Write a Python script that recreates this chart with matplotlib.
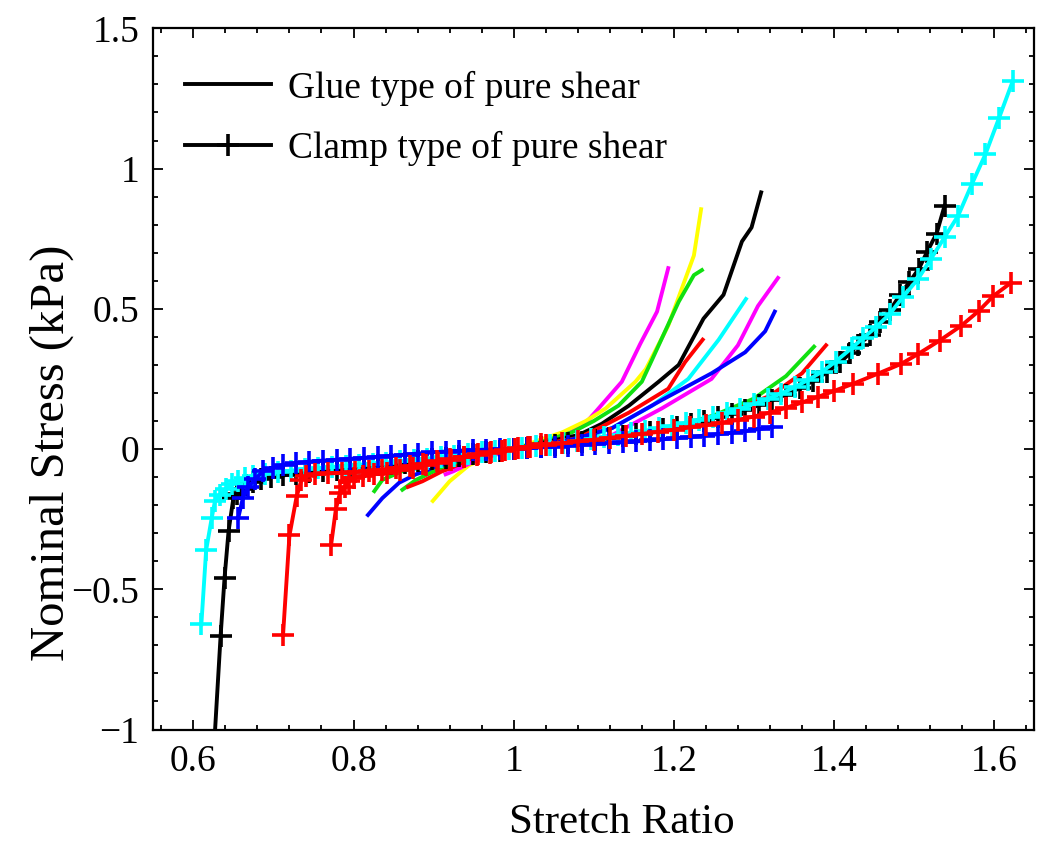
import matplotlib
matplotlib.use('Agg')
import matplotlib.pyplot as plt
from matplotlib.ticker import MultipleLocator, FuncFormatter
from matplotlib.lines import Line2D

plt.rcParams['font.family'] = ['Liberation Serif', 'DejaVu Serif']

# ---- glue type (solid lines), tension side ----
glue_t_magenta1_x = [1.0, 1.03, 1.06, 1.086, 1.106, 1.135, 1.158, 1.179, 1.193]
glue_t_magenta1_y = [0.0, 0.02, 0.05, 0.08, 0.145, 0.24, 0.375, 0.49, 0.645]
glue_t_yellow_x = [1.0, 1.03, 1.061, 1.09, 1.115, 1.152, 1.165, 1.193, 1.225, 1.234]
glue_t_yellow_y = [0.0, 0.03, 0.06, 0.10, 0.145, 0.24, 0.285, 0.44, 0.69, 0.855]
glue_t_green1_x = [1.0, 1.04, 1.073, 1.10, 1.131, 1.16, 1.173, 1.206, 1.225, 1.235]
glue_t_green1_y = [0.0, 0.03, 0.06, 0.10, 0.155, 0.24, 0.32, 0.525, 0.62, 0.638]
glue_t_black_x = [1.0, 1.04, 1.081, 1.11, 1.144, 1.181, 1.206, 1.237, 1.262, 1.285, 1.297, 1.309]
glue_t_black_y = [0.0, 0.025, 0.05, 0.09, 0.155, 0.24, 0.30, 0.465, 0.55, 0.74, 0.79, 0.915]
glue_t_red1_x = [1.0, 1.04, 1.081, 1.11, 1.144, 1.193, 1.214, 1.236]
glue_t_red1_y = [0.0, 0.02, 0.04, 0.08, 0.13, 0.215, 0.31, 0.39]
glue_t_cyan_x = [1.0, 1.05, 1.09, 1.123, 1.173, 1.218, 1.256, 1.29]
glue_t_cyan_y = [0.0, 0.015, 0.04, 0.075, 0.155, 0.25, 0.39, 0.535]
glue_t_magenta2_x = [1.0, 1.05, 1.09, 1.123, 1.185, 1.247, 1.28, 1.305, 1.33]
glue_t_magenta2_y = [0.0, 0.015, 0.03, 0.05, 0.145, 0.25, 0.37, 0.51, 0.61]
glue_t_blue_x = [1.0, 1.05, 1.081, 1.123, 1.185, 1.247, 1.289, 1.314, 1.326]
glue_t_blue_y = [0.0, 0.02, 0.04, 0.075, 0.175, 0.27, 0.345, 0.42, 0.49]
glue_t_green2_x = [1.0, 1.1, 1.2, 1.25, 1.3, 1.34, 1.375]
glue_t_green2_y = [0.0, 0.03, 0.08, 0.12, 0.18, 0.26, 0.365]
glue_t_red2_x = [1.0, 1.1, 1.2, 1.26, 1.32, 1.36, 1.39]
glue_t_red2_y = [0.0, 0.03, 0.075, 0.12, 0.19, 0.27, 0.37]

# ---- glue type, compression side ----
glue_c_blue_x = [0.818, 0.824, 0.836, 0.857, 0.878, 0.91, 0.95, 1.0]
glue_c_blue_y = [-0.235, -0.215, -0.175, -0.12, -0.09, -0.06, -0.03, 0.0]
glue_c_green1_x = [0.826, 0.836, 0.86, 0.9, 0.95, 1.0]
glue_c_green1_y = [-0.15, -0.11, -0.08, -0.05, -0.025, 0.0]
glue_c_green2_x = [0.861, 0.878, 0.9, 0.94, 1.0]
glue_c_green2_y = [-0.145, -0.11, -0.08, -0.045, 0.0]
glue_c_red_x = [0.868, 0.886, 0.91, 0.95, 1.0]
glue_c_red_y = [-0.135, -0.115, -0.08, -0.04, 0.0]
glue_c_yellow_x = [0.899, 0.92, 0.944, 0.97, 1.0]
glue_c_yellow_y = [-0.185, -0.115, -0.058, -0.025, 0.0]
glue_c_magenta_x = [0.915, 0.924, 0.95, 1.0]
glue_c_magenta_y = [-0.09, -0.08, -0.045, 0.0]

# ---- clamp type (lines with + markers) ----
clamp_black_x = [0.622, 0.634, 0.639, 0.644, 0.650, 0.655, 0.660, 0.666, 0.674, 0.684,
                 0.697, 0.712, 0.728, 0.745, 0.762, 0.779, 0.796, 0.813, 0.830, 0.847,
                 0.864, 0.881, 0.898, 0.915, 0.932, 0.949, 0.966, 0.983, 1.000, 1.017,
                 1.034, 1.051, 1.068, 1.085, 1.102, 1.119, 1.136, 1.153, 1.170, 1.187,
                 1.204, 1.221, 1.238, 1.255, 1.272, 1.289, 1.306, 1.323, 1.340, 1.357,
                 1.374, 1.391, 1.408, 1.420, 1.430, 1.445, 1.457, 1.470, 1.482, 1.494,
                 1.506, 1.516, 1.528, 1.538]
clamp_black_y = [-1.25, -0.668, -0.458, -0.292, -0.175, -0.160, -0.142, -0.128, -0.117, -0.108,
                 -0.100, -0.094, -0.088, -0.083, -0.078, -0.073, -0.068, -0.063, -0.058, -0.053,
                 -0.048, -0.043, -0.037, -0.031, -0.025, -0.019, -0.012, -0.006, 0.000, 0.004,
                 0.009, 0.014, 0.020, 0.026, 0.032, 0.039, 0.046, 0.054, 0.062, 0.071,
                 0.080, 0.090, 0.101, 0.113, 0.126, 0.140, 0.156, 0.174, 0.194, 0.217,
                 0.243, 0.273, 0.310, 0.342, 0.371, 0.406, 0.454, 0.495, 0.548, 0.595,
                 0.643, 0.702, 0.768, 0.867]

clamp_cyan_x = [0.610, 0.616, 0.623, 0.627, 0.633, 0.641, 0.648, 0.656, 0.665, 0.675,
                0.690, 0.706, 0.722, 0.739, 0.756, 0.773, 0.790, 0.807, 0.824, 0.841,
                0.858, 0.875, 0.892, 0.909, 0.926, 0.943, 0.960, 0.977, 0.994, 1.011,
                1.028, 1.045, 1.062, 1.079, 1.096, 1.113, 1.130, 1.147, 1.164, 1.181,
                1.198, 1.215, 1.232, 1.249, 1.266, 1.283, 1.300, 1.317, 1.334, 1.351,
                1.368, 1.385, 1.402, 1.422, 1.436, 1.453, 1.470, 1.486, 1.505, 1.521,
                1.538, 1.555, 1.572, 1.589, 1.606, 1.623]
clamp_cyan_y = [-0.625, -0.360, -0.245, -0.185, -0.165, -0.142, -0.126, -0.113, -0.103, -0.095,
                -0.088, -0.082, -0.077, -0.072, -0.068, -0.064, -0.060, -0.056, -0.052, -0.048,
                -0.044, -0.039, -0.034, -0.029, -0.024, -0.018, -0.012, -0.006, -0.001, 0.004,
                0.010, 0.016, 0.022, 0.028, 0.035, 0.042, 0.049, 0.057, 0.065, 0.074,
                0.083, 0.093, 0.104, 0.116, 0.129, 0.144, 0.160, 0.178, 0.198, 0.221,
                0.247, 0.276, 0.312, 0.360, 0.395, 0.436, 0.483, 0.542, 0.607, 0.678,
                0.755, 0.832, 0.944, 1.051, 1.180, 1.311]

clamp_blue_x = [0.656, 0.662, 0.668, 0.677, 0.687, 0.700, 0.712, 0.728, 0.745, 0.762,
                0.779, 0.796, 0.813, 0.830, 0.847, 0.864, 0.881, 0.898, 0.915, 0.932,
                0.949, 0.966, 0.983, 1.000, 1.017, 1.034, 1.051, 1.068, 1.085, 1.102,
                1.119, 1.136, 1.153, 1.170, 1.187, 1.204, 1.221, 1.238, 1.255, 1.272,
                1.289, 1.306, 1.323]
clamp_blue_y = [-0.246, -0.173, -0.137, -0.108, -0.079, -0.066, -0.056, -0.050, -0.045, -0.041,
                -0.038, -0.035, -0.031, -0.028, -0.024, -0.020, -0.016, -0.012, -0.009, -0.006,
                -0.004, -0.002, -0.001, 0.000, 0.003, 0.006, 0.009, 0.012, 0.015, 0.018,
                0.021, 0.024, 0.027, 0.031, 0.035, 0.039, 0.043, 0.048, 0.053, 0.058,
                0.064, 0.071, 0.078]

clamp_red1_x = [0.712, 0.720, 0.729, 0.735, 0.741, 0.752, 0.768, 0.785, 0.802, 0.819,
                0.836, 0.853, 0.870, 0.887, 0.904, 0.921, 0.938, 0.955, 0.972, 0.989,
                1.006, 1.02, 1.04, 1.06, 1.08, 1.10, 1.12, 1.14, 1.16, 1.18,
                1.20, 1.22, 1.24, 1.26, 1.28, 1.30, 1.32, 1.34, 1.36, 1.38,
                1.40, 1.424, 1.455, 1.484, 1.505, 1.532, 1.559, 1.581, 1.599, 1.621]
clamp_red1_y = [-0.663, -0.308, -0.169, -0.110, -0.096, -0.090, -0.087, -0.085, -0.082, -0.078,
                -0.073, -0.067, -0.060, -0.052, -0.044, -0.036, -0.027, -0.019, -0.011, -0.004,
                0.003, 0.008, 0.014, 0.020, 0.027, 0.033, 0.040, 0.047, 0.054, 0.061,
                0.069, 0.077, 0.085, 0.094, 0.104, 0.116, 0.130, 0.147, 0.166, 0.186,
                0.207, 0.233, 0.269, 0.304, 0.339, 0.387, 0.440, 0.493, 0.546, 0.593]

clamp_red2_x = [0.772, 0.778, 0.783, 0.789, 0.794, 0.801, 0.812, 0.826, 0.842, 0.858,
                0.874, 0.890, 0.906, 0.922, 0.938, 0.954, 0.970, 0.986, 1.002, 1.018, 1.034]
clamp_red2_y = [-0.342, -0.214, -0.157, -0.137, -0.114, -0.102, -0.095, -0.090, -0.084, -0.076,
                -0.068, -0.058, -0.048, -0.039, -0.030, -0.021, -0.013, -0.006, 0.001, 0.009, 0.017]

legend_labels = ['Glue type of pure shear', 'Clamp type of pure shear']

# matlab-style pure colours
K, R, B = '#000000', '#ff0000', '#0000ff'
C, M, Y, G = '#00ffff', '#ff00ff', '#ffff00', '#10e010'

glue_series = [
    (glue_t_magenta1_x, glue_t_magenta1_y, M),
    (glue_t_yellow_x, glue_t_yellow_y, Y),
    (glue_t_green1_x, glue_t_green1_y, G),
    (glue_t_black_x, glue_t_black_y, K),
    (glue_t_red1_x, glue_t_red1_y, R),
    (glue_t_cyan_x, glue_t_cyan_y, C),
    (glue_t_magenta2_x, glue_t_magenta2_y, M),
    (glue_t_blue_x, glue_t_blue_y, B),
    (glue_t_green2_x, glue_t_green2_y, G),
    (glue_t_red2_x, glue_t_red2_y, R),
    (glue_c_blue_x, glue_c_blue_y, B),
    (glue_c_green1_x, glue_c_green1_y, G),
    (glue_c_green2_x, glue_c_green2_y, G),
    (glue_c_red_x, glue_c_red_y, R),
    (glue_c_yellow_x, glue_c_yellow_y, Y),
    (glue_c_magenta_x, glue_c_magenta_y, M),
]
clamp_series = [
    (clamp_black_x, clamp_black_y, K),
    (clamp_cyan_x, clamp_cyan_y, C),
    (clamp_blue_x, clamp_blue_y, B),
    (clamp_red2_x, clamp_red2_y, R),
    (clamp_red1_x, clamp_red1_y, R),
]

fig = plt.figure(figsize=(10.5, 8.48), dpi=100)
ax = fig.add_axes([0.146, 0.1397, 0.839, 0.8269])

LW = 2.8
MS = 16
MEW = 2.6
for x, y, c in glue_series:
    ax.plot(x, y, '-', color=c, lw=LW)
for x, y, c in clamp_series:
    ax.plot(x, y, '-', color=c, lw=LW, marker='+', ms=MS, mew=MEW)

ax.set_xlim(0.55, 1.65)
ax.set_ylim(-1, 1.5)
ax.xaxis.set_major_locator(MultipleLocator(0.2))
ax.xaxis.set_minor_locator(MultipleLocator(0.04))
ax.yaxis.set_major_locator(MultipleLocator(0.5))
ax.yaxis.set_minor_locator(MultipleLocator(0.1))
fmt = FuncFormatter(lambda v, p: ('%g' % round(v, 3)).replace('-', '\u2212'))
ax.xaxis.set_major_formatter(fmt)
ax.yaxis.set_major_formatter(fmt)
ax.tick_params(which='both', direction='in', top=True, right=True, width=1.3)
ax.tick_params(which='major', length=7, labelsize=27)
ax.tick_params(which='minor', length=3.5)
ax.tick_params(axis='x', which='major', pad=11)
ax.tick_params(axis='y', which='major', pad=10)
for s in ax.spines.values():
    s.set_linewidth(1.6)

ax.set_xlabel('Stretch Ratio', fontsize=31)
ax.xaxis.set_label_coords(0.532, -0.105)
ax.set_ylabel('Nominal Stress (kPa)', fontsize=35)
ax.yaxis.set_label_coords(-0.09, 0.395)

handles = [Line2D([], [], color='k', lw=LW),
           Line2D([], [], color='k', lw=LW, marker='+', ms=MS, mew=MEW)]
ax.legend(handles, legend_labels, loc='upper left', bbox_to_anchor=(0.036, 0.94),
          frameon=False, fontsize=27, handlelength=2.3, handletextpad=0.45,
          labelspacing=0.68, borderaxespad=0, borderpad=0)

plt.savefig('out.png', dpi=100)
